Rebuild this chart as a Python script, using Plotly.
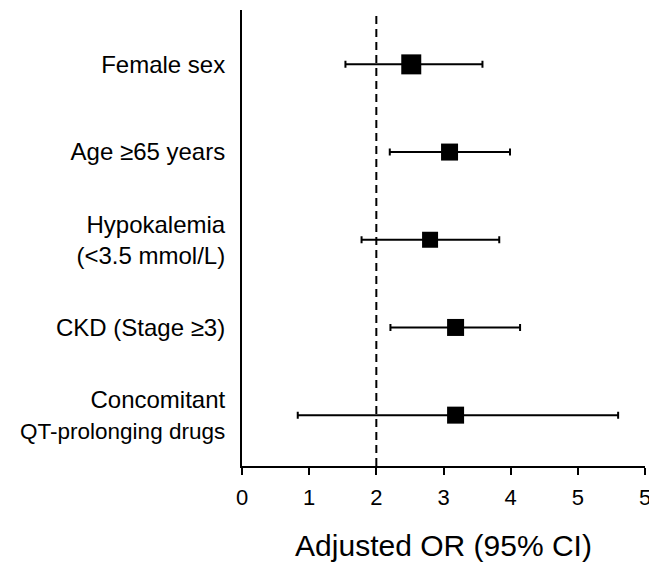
import plotly.graph_objects as go

# Data
factors = [
    "Female sex",
    "Age \u226565 years",
    "Hypokalemia<br>(&lt;3.5 mmol/L)",
    "CKD (Stage \u22653)",
    "Concomitant<br><span style=\"font-size:22.5px\">QT-prolonging drugs</span>",
]
odds_ratio = [2.52, 3.09, 2.80, 3.18, 3.18]
ci_low = [1.54, 2.20, 1.78, 2.21, 0.83]
ci_high = [3.58, 3.99, 3.83, 4.14, 5.60]
x_tick_vals = [0, 1, 2, 3, 4, 5, 6]
x_tick_text = ["0", "1", "2", "3", "4", "5", "5"]
reference_line = 2

n = len(factors)
ypos = [n - 1 - i for i in range(n)]
err_plus = [h - m for h, m in zip(ci_high, odds_ratio)]
err_minus = [m - l for m, l in zip(odds_ratio, ci_low)]

font_family = "Liberation Sans, Arial, Helvetica, sans-serif"

fig = go.Figure()
fig.add_trace(go.Scatter(
    x=odds_ratio,
    y=ypos,
    mode="markers",
    marker=dict(symbol="square", size=[20, 17, 16, 17, 17], color="black",
                opacity=1, line=dict(width=0)),
    error_x=dict(type="data", symmetric=False, array=err_plus,
                 arrayminus=err_minus, color="black", thickness=2, width=3.5),
    showlegend=False,
    hoverinfo="skip",
))

fig.add_shape(type="line", xref="x", yref="paper",
              x0=reference_line, x1=reference_line, y0=0, y1=0.995,
              line=dict(color="black", width=2, dash="8px,5px"))

fig.update_layout(
    width=649, height=570,
    margin=dict(l=242, r=4, t=10, b=104),
    paper_bgcolor="white", plot_bgcolor="white",
    font=dict(family=font_family, color="black"),
    xaxis=dict(
        range=[0, 6], tickvals=x_tick_vals, ticktext=x_tick_text,
        showline=True, linecolor="black", linewidth=2,
        ticks="outside", ticklen=7, tickwidth=2, tickcolor="black",
        showgrid=False, zeroline=False, automargin=False,
        ticklabeloverflow="allow", ticklabelstandoff=4,
        tickfont=dict(size=22, family=font_family),
        title=dict(text="Adjusted OR (95% CI)",
                   font=dict(size=30, family=font_family), standoff=26),
    ),
    yaxis=dict(
        range=[-0.58, 4.62], tickvals=ypos, ticktext=factors,
        showline=True, linecolor="black", linewidth=2,
        ticks="", showgrid=False, zeroline=False, automargin=False,
        tickfont=dict(size=24, family=font_family),
        ticklabelstandoff=10,
    ),
)

fig.write_html("out.html")
